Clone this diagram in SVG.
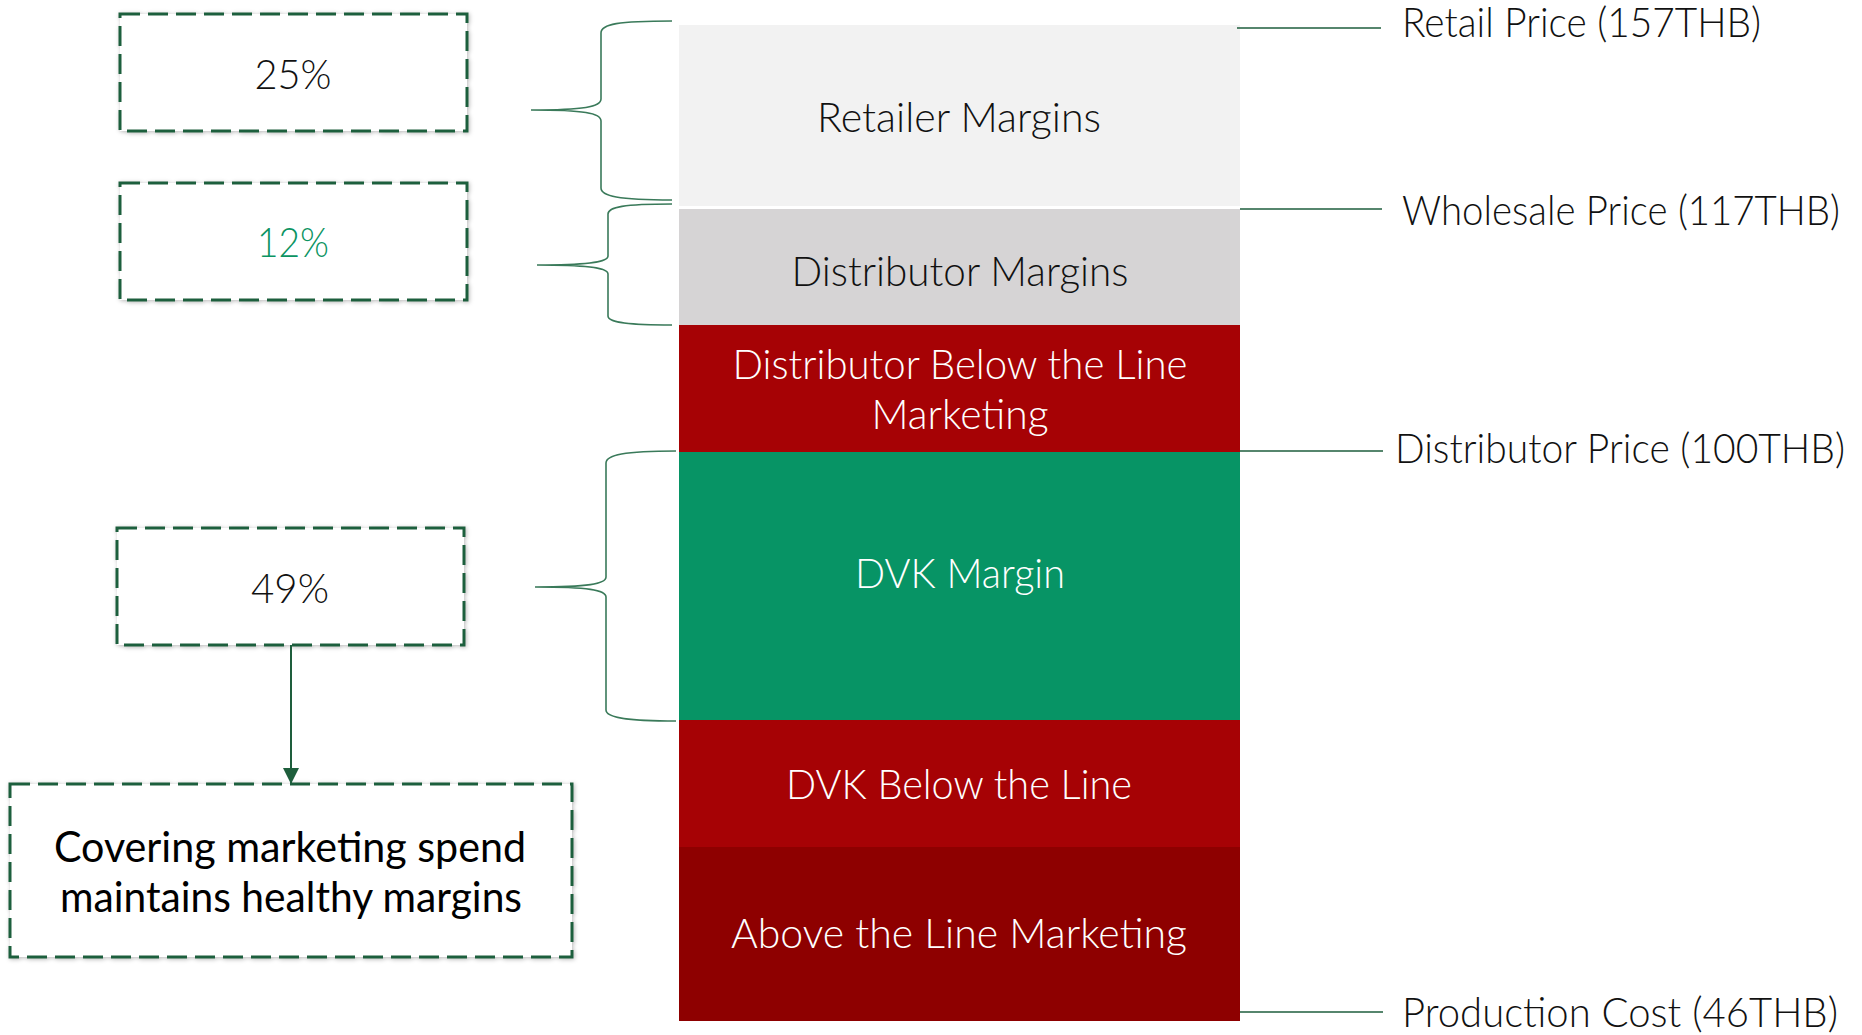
<svg xmlns="http://www.w3.org/2000/svg" width="1862" height="1035" viewBox="0 0 1862 1035">
  <defs>
    <style>
      .lbl { font-family: Lato, "Open Sans", "Liberation Sans", sans-serif; font-weight: 300; font-size: 42px; }
      .dark { fill: #111111; }
      .light { fill: #ffffff; }
      .mid { text-anchor: middle; }
      .box { fill: #ffffff; stroke: #1E5E3C; stroke-width: 3; stroke-dasharray: 20 8; filter: url(#glow); }
      .brace { fill: none; stroke: #3A7A5A; stroke-width: 1.6; }
      .tick { stroke: #1E5E3C; stroke-width: 1.6; }
      .note { font-family: Lato, "Open Sans", "Liberation Sans", sans-serif; font-weight: 400; font-size: 42px; fill: #000000; text-anchor: middle; }
    </style>
    <filter id="glow" x="-10%" y="-20%" width="120%" height="140%">
      <feDropShadow dx="1" dy="1" stdDeviation="2" flood-color="#000000" flood-opacity="0.28"/>
    </filter>
    <marker id="arrow" viewBox="0 0 16 16" refX="15" refY="8" markerWidth="16" markerHeight="16" markerUnits="userSpaceOnUse" orient="auto">
      <path d="M0,0 L16,8 L0,16 Z" fill="#1E5E3C"/>
    </marker>
  </defs>

  <rect width="1862" height="1035" fill="#ffffff"/>

  <!-- stacked price bar -->
  <g id="bar">
    <g id="seg-retailer">
      <rect x="679" y="25" width="561" height="181" fill="#F2F2F2"/>
      <text class="lbl dark mid" x="959" y="132" textLength="284" lengthAdjust="spacingAndGlyphs">Retailer Margins</text>
    </g>
    <g id="seg-distributor">
      <rect x="679" y="209" width="561" height="116" fill="#D6D4D5"/>
      <text class="lbl dark mid" x="960" y="286" textLength="337" lengthAdjust="spacingAndGlyphs">Distributor Margins</text>
    </g>
    <g id="seg-dist-btl">
      <rect x="679" y="325" width="561" height="127" fill="#A60205"/>
      <text class="lbl light mid" x="960" y="379" textLength="455" lengthAdjust="spacingAndGlyphs">Distributor Below the Line</text>
      <text class="lbl light mid" x="960" y="429" textLength="177" lengthAdjust="spacingAndGlyphs">Marketing</text>
    </g>
    <g id="seg-dvk-margin">
      <rect x="679" y="452" width="561" height="268" fill="#079465"/>
      <text class="lbl light mid" x="960" y="588" textLength="210" lengthAdjust="spacingAndGlyphs">DVK Margin</text>
    </g>
    <g id="seg-dvk-btl">
      <rect x="679" y="720" width="561" height="127" fill="#A60205"/>
      <text class="lbl light mid" x="959" y="799" textLength="346" lengthAdjust="spacingAndGlyphs">DVK Below the Line</text>
    </g>
    <g id="seg-atl">
      <rect x="679" y="847" width="561" height="174" fill="#8E0000"/>
      <text class="lbl light mid" x="959" y="948" textLength="456" lengthAdjust="spacingAndGlyphs">Above the Line Marketing</text>
    </g>
  </g>

  <!-- price level labels -->
  <g id="price-retail">
    <text class="lbl dark" x="1402" y="37" textLength="359" lengthAdjust="spacingAndGlyphs">Retail Price (157THB)</text>
  </g>
  <g id="price-wholesale">
    <text class="lbl dark" x="1402" y="225" textLength="438" lengthAdjust="spacingAndGlyphs">Wholesale Price (117THB)</text>
  </g>
  <g id="price-distributor">
    <text class="lbl dark" x="1395" y="463" textLength="450" lengthAdjust="spacingAndGlyphs">Distributor Price (100THB)</text>
  </g>
  <g id="price-production">
    <text class="lbl dark" x="1402" y="1027" textLength="436" lengthAdjust="spacingAndGlyphs">Production Cost (46THB)</text>
  </g>

  <!-- percentage callouts -->
  <g id="pct-25">
    <rect class="box" x="120" y="14" width="347" height="117"/>
    <text class="lbl dark mid" x="293" y="89" textLength="77" lengthAdjust="spacingAndGlyphs">25%</text>
  </g>
  <g id="pct-12">
    <rect class="box" x="120" y="183" width="347" height="117"/>
    <text class="lbl mid" x="293" y="257" fill="#0B9462" textLength="72" lengthAdjust="spacingAndGlyphs">12%</text>
  </g>
  <g id="pct-49">
    <rect class="box" x="117" y="528" width="347" height="117"/>
    <text class="lbl dark mid" x="290" y="603" textLength="78" lengthAdjust="spacingAndGlyphs">49%</text>
  </g>
  <g id="note">
    <rect class="box" x="10" y="784" width="562" height="173"/>
    <text class="note" x="290" y="862" textLength="472" lengthAdjust="spacingAndGlyphs">Covering marketing spend</text>
    <text class="note" x="291" y="912" textLength="462" lengthAdjust="spacingAndGlyphs">maintains healthy margins</text>
  </g>

  <!-- braces, level ticks and arrow -->
  <g id="connectors">
    <path class="brace" d="M672,21 C618,21 601,24 601,33 L601,99 C601,107 584,110 531,110 C584,110 601,113 601,121 L601,188 C601,196 618,200 672,200"/>
    <path class="brace" d="M672,204 C624,204 608,207 608,214 L608,256 C608,262 590,265 537,265 C590,265 608,268 608,274 L608,316 C608,322 624,325 672,325"/>
    <path class="brace" d="M676,451 C624,451 606,455 606,463 L606,577 C606,584 588,587 535,587 C588,587 606,590 606,597 L606,710 C606,717 624,721 676,721"/>
    <line class="tick" x1="1237" y1="28" x2="1381" y2="28"/>
    <line class="tick" x1="1240" y1="209" x2="1382" y2="209"/>
    <line class="tick" x1="1240" y1="451" x2="1383" y2="451"/>
    <line class="tick" x1="1240" y1="1012" x2="1383" y2="1012"/>
    <line x1="291" y1="645" x2="291" y2="783" stroke="#1E5E3C" stroke-width="2" marker-end="url(#arrow)"/>
  </g>
</svg>
